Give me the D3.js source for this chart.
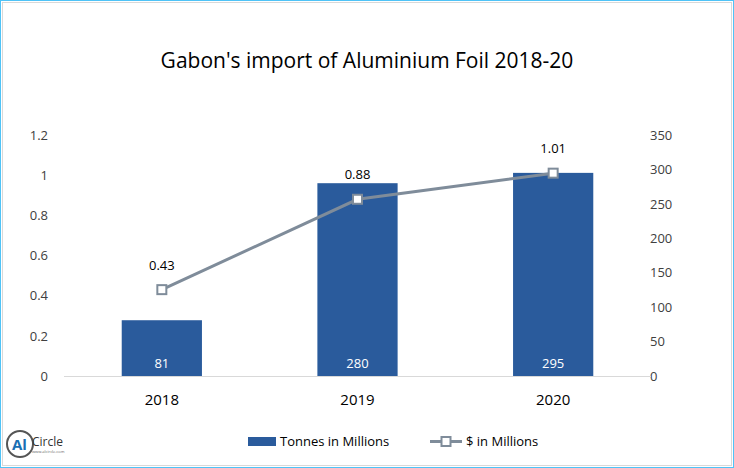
<!DOCTYPE html>
<html><head><meta charset="utf-8">
<script src="https://cdn.jsdelivr.net/npm/d3@7"></script>
<style>body{margin:0;background:#fff;font-family:Calibri,Carlito,"Open Sans",Arial,sans-serif}</style>
</head><body>
<svg id="c" width="734" height="468"></svg>
<script>
const categories=["2018","2019","2020"];
const tonnes=[81,280,295];
const dollars=[0.43,0.88,1.01];
const leftTicks=[0,0.2,0.4,0.6,0.8,1,1.2];
const rightTicks=[0,50,100,150,200,250,300,350];

const svg=d3.select("#c");
const font="Open Sans, sans-serif";
svg.append("rect").attr("x",0.5).attr("y",0.5).attr("width",733).attr("height",467).attr("fill","#fff").attr("stroke","#4fc3f7").attr("stroke-width",1);
svg.append("rect").attr("x",2.5).attr("y",2.5).attr("width",729).attr("height",463).attr("fill","none").attr("stroke","#d9d9d9");
svg.append("text").attr("x",367).attr("y",68).attr("text-anchor","middle").attr("font-family",font).attr("font-size",21).attr("fill","#000").text("Gabon's import of Aluminium Foil 2018-20");

const x=d3.scaleBand().domain(categories).range([64,651]).paddingInner(0.59).paddingOuter(0.295);
const yL=d3.scaleLinear().domain([0,1.2]).range([376,135]);
const yR=d3.scaleLinear().domain([0,350]).range([376,135]);

svg.append("g").attr("transform","translate(58,0)").call(d3.axisLeft(yL).tickValues(leftTicks).tickSize(0).tickPadding(10).tickFormat(d=>d))
 .call(g=>{g.select(".domain").remove();g.selectAll("text").attr("font-family",font).attr("font-size",13).attr("fill","#404040");});
svg.append("g").attr("transform","translate(640,0)").call(d3.axisRight(yR).tickValues(rightTicks).tickSize(0).tickPadding(10))
 .call(g=>{g.select(".domain").remove();g.selectAll("text").attr("font-family",font).attr("font-size",13).attr("fill","#404040");});
svg.append("line").attr("x1",64).attr("x2",651).attr("y1",376.5).attr("y2",376.5).attr("stroke","#d9d9d9");
svg.append("g").attr("transform","translate(0,376)").call(d3.axisBottom(x).tickSize(0).tickPadding(18))
 .call(g=>{g.select(".domain").remove();g.selectAll("text").attr("font-family",font).attr("font-size",15).attr("fill","#000");});

svg.selectAll(".bar").data(tonnes).join("rect").attr("x",(d,i)=>x(categories[i])).attr("width",x.bandwidth())
 .attr("y",d=>yR(d)).attr("height",d=>376-yR(d)).attr("fill","#2a5b9c");
svg.selectAll(".bl").data(tonnes).join("text").attr("x",(d,i)=>x(categories[i])+x.bandwidth()/2).attr("y",368)
 .attr("text-anchor","middle").attr("font-family",font).attr("font-size",13).attr("fill","#fff").text(d=>d);

const cx=(i)=>x(categories[i])+x.bandwidth()/2;
svg.append("path").attr("d",d3.line().x((d,i)=>cx(i)).y(d=>yL(d))(dollars)).attr("fill","none").attr("stroke","#7f8c9a").attr("stroke-width",3);
svg.selectAll(".pt").data(dollars).join("rect").attr("x",(d,i)=>cx(i)-4.5).attr("y",d=>yL(d)-4.5).attr("width",9).attr("height",9)
 .attr("fill","#fff").attr("stroke","#7f8c9a").attr("stroke-width",2);
svg.selectAll(".pl").data(dollars).join("text").attr("x",(d,i)=>cx(i)).attr("y",d=>yL(d)-20)
 .attr("text-anchor","middle").attr("font-family",font).attr("font-size",13).attr("fill","#000").text(d=>d.toFixed(2));

// legend
svg.append("rect").attr("x",248).attr("y",437).attr("width",28).attr("height",9).attr("fill","#2a5b9c");
svg.append("text").attr("x",280).attr("y",446).attr("font-family",font).attr("font-size",13).text("Tonnes in Millions");
svg.append("line").attr("x1",430).attr("x2",462).attr("y1",441.5).attr("y2",441.5).attr("stroke","#7f8c9a").attr("stroke-width",3);
svg.append("rect").attr("x",441.5).attr("y",437).attr("width",9).attr("height",9).attr("fill","#fff").attr("stroke","#7f8c9a").attr("stroke-width",2);
svg.append("text").attr("x",466).attr("y",446).attr("font-family",font).attr("font-size",13).text("$ in Millions");

// logo
svg.append("circle").attr("cx",20).attr("cy",444).attr("r",13).attr("fill","none").attr("stroke","#555").attr("stroke-width",2);
svg.append("text").attr("x",12).attr("y",450).attr("font-family",font).attr("font-size",15).attr("font-weight","bold").attr("fill","#1a6fb3").text("Al");
svg.append("text").attr("x",32).attr("y",446).attr("font-family",font).attr("font-size",12).attr("fill","#333").text("Circle");
svg.append("text").attr("x",32).attr("y",453).attr("font-family",font).attr("font-size",4).attr("fill","#666").text("www.alcircle.com");
</script>
</body></html>
